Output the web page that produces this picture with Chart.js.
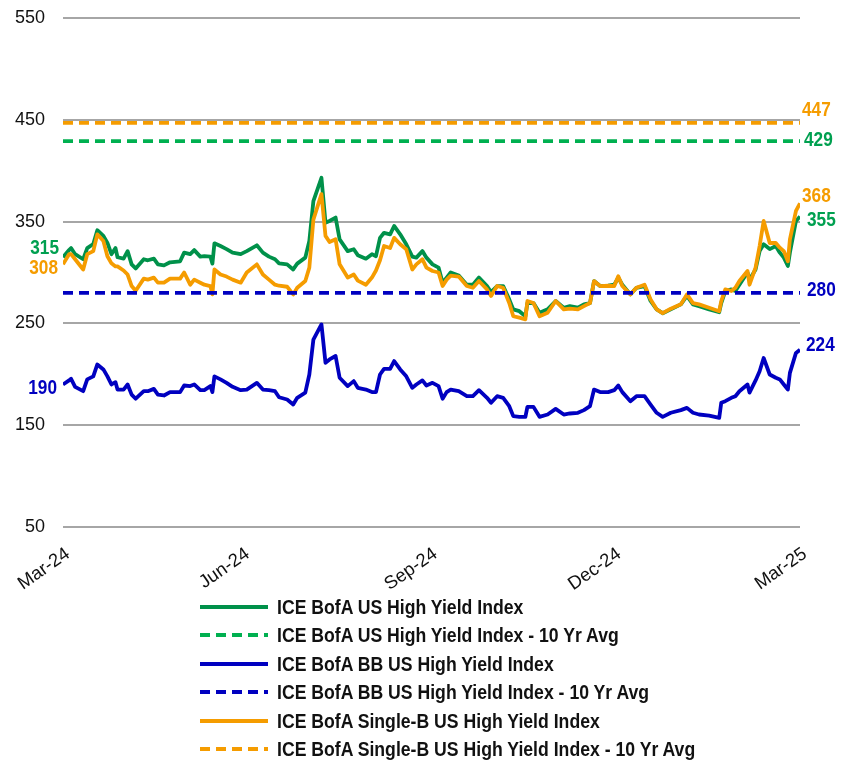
<!DOCTYPE html>
<html>
<head>
<meta charset="utf-8">
<script src="https://cdn.jsdelivr.net/npm/chart.js@4/dist/chart.umd.min.js"></script>
<style>
  html, body { margin:0; padding:0; background:#fff; }
  body { width:850px; height:760px; overflow:hidden; position:relative; }
  #wrap { position:absolute; left:0; top:0; width:850px; height:595px; }
  #legend { position:absolute; left:0; top:593px; width:850px; }
  .row { position:absolute; left:200px; height:28px; display:flex; align-items:center; }
  .row svg { display:block; }
  .row span { margin-left:9px; font: bold 21px 'Liberation Sans Narrow','Arial Narrow','Liberation Sans',Arial,sans-serif; color:#111; white-space:nowrap; transform: scaleX(0.84); transform-origin: left center; display:inline-block; }
</style>
</head>
<body>
<div id="wrap"><canvas id="c" width="850" height="595"></canvas></div>
<div id="legend"></div>
<script>
const FONT = "'Liberation Sans Narrow','Arial Narrow','Liberation Sans',Arial,sans-serif";

// x positions: days since start of window (Mar-24 .. Mar-25)
const days = [0,3,4,6,10,12,15,17,20,22, 24,26,27,30,32,34,36,40,42,45,
  47,50,53,58,60,63,65,68,70,73, 74,75,78,81,84,88,91,96,99,102,
  105,107,111,114,116,120,122,124,128,130, 132,135,137,141,144,146,150,153,155,157,
  159,162,164,
  167,170,173,175,178,180,183,186,188,190, 192,196,200,203,206,210,212,215,218,221,
  223,226,229,230,233,236,240,244,248,251, 255,258,261,263,266,270,273,275,277,281,
  284,288,291,294,297,301,306,309,312,315, 320,325,326,328,331,333,335,339,340,343,
  345,347,350,353,355,357,359,360,363,365];

const hyIndex = [315,322,324,318,313,324,328,341.5,336,329,
  318,324,315,313.6,321,308,304,313,312,313.6,
  308,307,310,311,319.5,318,322,315.6,316,315.6,
  308.7,328.7,326,323,319.5,318,321,326.7,319.5,315.6,
  313,309,308,303,308.7,314.6,331,370,393,349,
  350.6,354,332.6,321,322.8,317,313.6,318,316,334,
  339,337.5,345.7,
  337.5,327.7,315.6,314.6,321,314.6,308,304.8,290,295,
  300,297,288,288,295,286.7,280.8,286.7,286.7,273.6,
  263.8,262,257,270,270,260.5,263.8,272,265.4,267,
  265.4,268.7,270,291.6,286.7,287,288,295,288,278.5,
  285,286.7,272,263.8,260,263.8,268.7,277,268.7,267,
  263.8,261,270,281.8,283.4,281.8,288,300,293,303,
  321,327.7,323,326,319.5,314.6,306.4,319.5,350.6,355];

const singleB = [308,318,318,313,303,318,321,337.5,331,316,
  309,306,306,302,298,286.7,282,294,293,295,
  290,290,294,294,300,288,293,290,288,286.7,
  278.5,303,298,296,293,290,300,308,298,293,
  288,287,286,278.5,285,291.6,304.8,352,377,336,
  330,332.6,308,295,298,292,288,295,302,312,
  326,324,334,
  327.7,322.8,303,308,313,304.8,301.5,300,286.7,293,
  297,296,286.7,285,291.6,283.4,277,286.7,285,270,
  257,255.6,254,272,270,257,260.5,272,263.8,264.5,
  263.8,267,270,291.6,286.7,287,286.7,296.4,286.7,278.5,
  285,288,273.6,263.8,260,264.5,268.7,278.5,270,268.7,
  265.4,262,272,283.4,281.8,285,291.6,301.5,288,304.8,
  326,350.6,329,329,324.4,321,311,332.6,360.5,368];

const bbIndex = [190,194,195.6,187.7,183.4,195,198,209.7,204.8,198,
  190,192.3,185,185,190,180,176,183.4,183.4,185.7,
  180,179.2,182.5,182.5,189,188.4,190,184.4,184.4,188.4,
  182.5,198,195,191.6,187.7,184.4,185,191.6,185,184.4,
  183.4,177.5,175.2,170.3,176.9,182,199.8,234,249,211.3,
  214.6,218,196.6,188.4,193.3,186.7,185,182.5,182.5,199.8,
  205.4,205.4,213,
  204.8,198,186.7,190,194,189,191.6,188.4,176,182.5,
  185,183.4,178.5,178.5,184.4,176.9,172,178.5,176.9,168.7,
  158.9,158.2,158.2,168,168,158.2,160.5,166,160.5,161.5,
  162.2,164.8,168.7,185,182.5,182.5,184.4,189,182.5,173.6,
  178.5,178.5,170.3,162.2,158.2,162.2,164.8,167,162.2,160.5,
  159.5,157.2,172,173.6,176.9,178.5,183.4,190,182,194,
  203,216,199.8,196.6,195,190,185,201.4,221,224];

// 10-year averages
const hyAvg = 429;
const bbAvg = 280;
const singleBAvg = 447;

const tickDays = [0, 89, 182, 273, 365];
const tickLabels = ['Mar-24', 'Jun-24', 'Sep-24', 'Dec-24', 'Mar-25'];
const yTicks = [50, 150, 250, 350, 450, 550];

const seriesNames = [
  'ICE BofA US High Yield Index',
  'ICE BofA US High Yield Index - 10 Yr Avg',
  'ICE BofA BB US High Yield Index',
  'ICE BofA BB US High Yield Index - 10 Yr Avg',
  'ICE BofA Single-B US High Yield Index',
  'ICE BofA Single-B US High Yield Index - 10 Yr Avg'
];

const GREEN = '#00914a', GREEN_D = '#00b050', BLUE = '#0000c0', ORANGE = '#f59c00';
const colors = [GREEN, GREEN_D, BLUE, BLUE, ORANGE, ORANGE];
const dashed = [false, true, false, true, false, true];

const pts = arr => days.map((d, i) => ({x: d, y: arr[i]}));
const flat = v => [{x: days[0], y: v}, {x: days[days.length - 1], y: v}];

const LW = 3.8;
const datasets = [
  {label: seriesNames[0], data: pts(hyIndex), borderColor: GREEN, borderWidth: LW, order: 2},
  {label: seriesNames[1], data: flat(hyAvg), borderColor: GREEN_D, borderWidth: LW, borderDash: [10, 6], order: 0},
  {label: seriesNames[2], data: pts(bbIndex), borderColor: BLUE, borderWidth: LW, order: 3},
  {label: seriesNames[3], data: flat(bbAvg), borderColor: BLUE, borderWidth: LW, borderDash: [10, 6], order: 0},
  {label: seriesNames[4], data: pts(singleB), borderColor: ORANGE, borderWidth: LW, order: 1},
  {label: seriesNames[5], data: flat(singleBAvg), borderColor: ORANGE, borderWidth: LW, borderDash: [10, 6], order: 0}
].map(d => Object.assign({pointRadius: 0, tension: 0, fill: false, borderJoinStyle: 'round'}, d));

const last = a => a[a.length - 1];
const labelSpecs = [
  {v: singleBAvg, color: ORANGE, side: 'r', dx: 2, dy: -13},
  {v: hyAvg, color: '#00a050', side: 'r', dx: 4, dy: -1},
  {v: last(singleB), color: ORANGE, side: 'r', dx: 2, dy: -7},
  {v: last(hyIndex), color: '#00a050', side: 'r', dx: 7, dy: 3.5},
  {v: bbAvg, color: BLUE, side: 'r', dx: 7, dy: -3},
  {v: last(bbIndex), color: BLUE, side: 'r', dx: 6, dy: -5},
  {v: hyIndex[0], color: '#00a050', side: 'l', dx: -4, dy: -9},
  {v: singleB[0], color: ORANGE, side: 'l', dx: -5, dy: 4},
  {v: bbIndex[0], color: BLUE, side: 'l', dx: -6, dy: 3.5}
];

const SX = 0.82;
const valueLabels = {
  id: 'valueLabels',
  afterDatasetsDraw(chart) {
    const {ctx, chartArea, scales: {y}} = chart;
    ctx.save();
    ctx.font = 'bold 21px ' + FONT;
    ctx.textBaseline = 'middle';
    labelSpecs.forEach(s => {
      const py = y.getPixelForValue(s.v) + s.dy;
      const px = (s.side === 'r' ? chartArea.right : chartArea.left) + s.dx;
      ctx.save();
      ctx.translate(px, py);
      ctx.scale(SX, 1);
      ctx.fillStyle = s.color;
      ctx.textAlign = s.side === 'r' ? 'left' : 'right';
      ctx.fillText(String(Math.round(s.v)), 0, 0);
      ctx.restore();
    });
    ctx.restore();
  }
};

new Chart(document.getElementById('c'), {
  type: 'line',
  data: {datasets},
  options: {
    responsive: false,
    animation: false,
    devicePixelRatio: 1,
    layout: {padding: {left: 0, right: 50, top: 18, bottom: 0}},
    plugins: {legend: {display: false}, tooltip: {enabled: false}},
    scales: {
      x: {
        type: 'linear',
        min: 0, max: 365,
        afterBuildTicks: s => { s.ticks = tickDays.map(v => ({value: v})); },
        afterFit: s => { s.height = 68; },
        grid: {display: false},
        border: {display: false},
        ticks: {
          autoSkip: false,
          minRotation: 35, maxRotation: 35,
          padding: 8,
          labelOffset: 5,
          color: '#111',
          font: {family: FONT, size: 18.5},
          callback: (v) => { const i = tickDays.indexOf(v); return i >= 0 ? tickLabels[i] : ''; }
        }
      },
      y: {
        min: 50, max: 550,
        afterBuildTicks: s => { s.ticks = yTicks.map(v => ({value: v})); },
        afterFit: s => { s.width = 63; s.paddingTop = 0; },
        grid: {color: '#a6a6a6', lineWidth: 2, drawTicks: false},
        border: {display: false},
        ticks: {padding: 18, color: '#111', font: {family: FONT, size: 18}}
      }
    }
  },
  plugins: [valueLabels]
});

// Legend (real text)
const legend = document.getElementById('legend');
seriesNames.forEach((name, i) => {
  const row = document.createElement('div');
  row.className = 'row';
  row.style.top = (i * 28.4) + 'px';
  const ns = 'http://www.w3.org/2000/svg';
  const svg = document.createElementNS(ns, 'svg');
  svg.setAttribute('width', '68'); svg.setAttribute('height', '8');
  const ln = document.createElementNS(ns, 'line');
  ln.setAttribute('x1', '0'); ln.setAttribute('x2', '68');
  ln.setAttribute('y1', '4'); ln.setAttribute('y2', '4');
  ln.setAttribute('stroke', colors[i]); ln.setAttribute('stroke-width', '4');
  if (dashed[i]) ln.setAttribute('stroke-dasharray', '10 6');
  svg.appendChild(ln);
  const sp = document.createElement('span');
  sp.textContent = name;
  row.appendChild(svg); row.appendChild(sp);
  legend.appendChild(row);
});
</script>
</body>
</html>
